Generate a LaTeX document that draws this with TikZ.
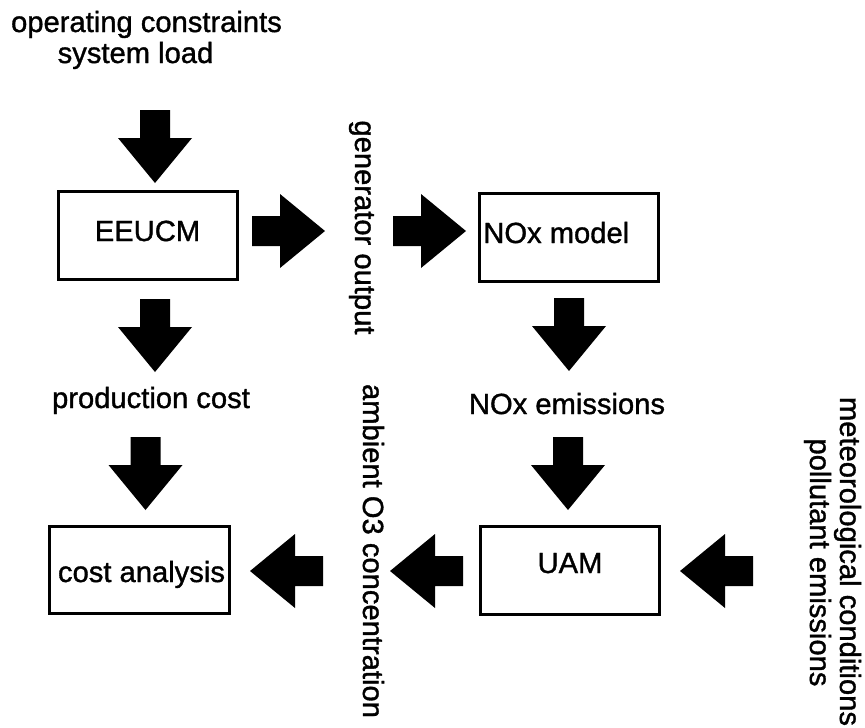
\documentclass[tikz,border=0pt]{standalone}
\usepackage{fontspec}
\setmainfont[FakeBold=1.2]{Liberation Sans}
\begin{document}
\begin{tikzpicture}[x=0.02cm,y=-0.02cm,
  txt/.style={font=\fontsize{16.6}{17.6}\selectfont, inner sep=0pt, anchor=base},
  vtxt/.style={txt, rotate=-90},
  box/.style={draw, line width=1.5pt, inner sep=0pt, minimum width=3.59cm, minimum height=1.75cm},
  pics/barrow/.style={code={\fill[black] (0,0) -- (37,-45) -- (15,-45) -- (15,-73) -- (-15,-73) -- (-15,-45) -- (-37,-45) -- cycle;}}]
\useasboundingbox (0,0) rectangle (865,727);

% boxes
\node[box] (eeucm) at (148,235.5) {};
\node[box] (nox)   at (569,237.5) {};
\node[box] (cost)  at (139.5,570) {};
\node[box] (uam)   at (570,570.5) {};

% texts
\node[txt] (ops)   at (146.5,32) {operating constraints};
\node[txt] (load)  at (135.5,63) {system load};
\node[txt] (eeucmT) at (147.5,241) {EEUCM};
\node[txt, anchor=base west] (noxT) at (483,243) {NOx model};
\node[txt] (prod)  at (151,408) {production cost};
\node[txt] (noxem) at (567,414) {NOx emissions};
\node[txt] (costT) at (141.5,582) {cost analysis};
\node[txt] (uamT)  at (570,573) {UAM};
\node[vtxt] (gen)  at (355,227.5) {generator output};
\node[vtxt] (amb)  at (363,551) {ambient O3 concentration};
\node[vtxt] (met)  at (840,561.5) {meteorological conditions};
\node[vtxt] (pol)  at (810,562.5) {pollutant emissions};

% block arrows
\pic at (155,183) {barrow};
\pic[rotate=90] at (325,231) {barrow};
\pic[rotate=90] at (466,231) {barrow};
\pic at (155,372) {barrow};
\pic at (569,371) {barrow};
\pic at (145.5,510) {barrow};
\pic at (568,510) {barrow};
\pic[rotate=-90] at (250,571) {barrow};
\pic[rotate=-90] at (390,571) {barrow};
\pic[rotate=-90] at (680,571) {barrow};
\end{tikzpicture}
\end{document}
